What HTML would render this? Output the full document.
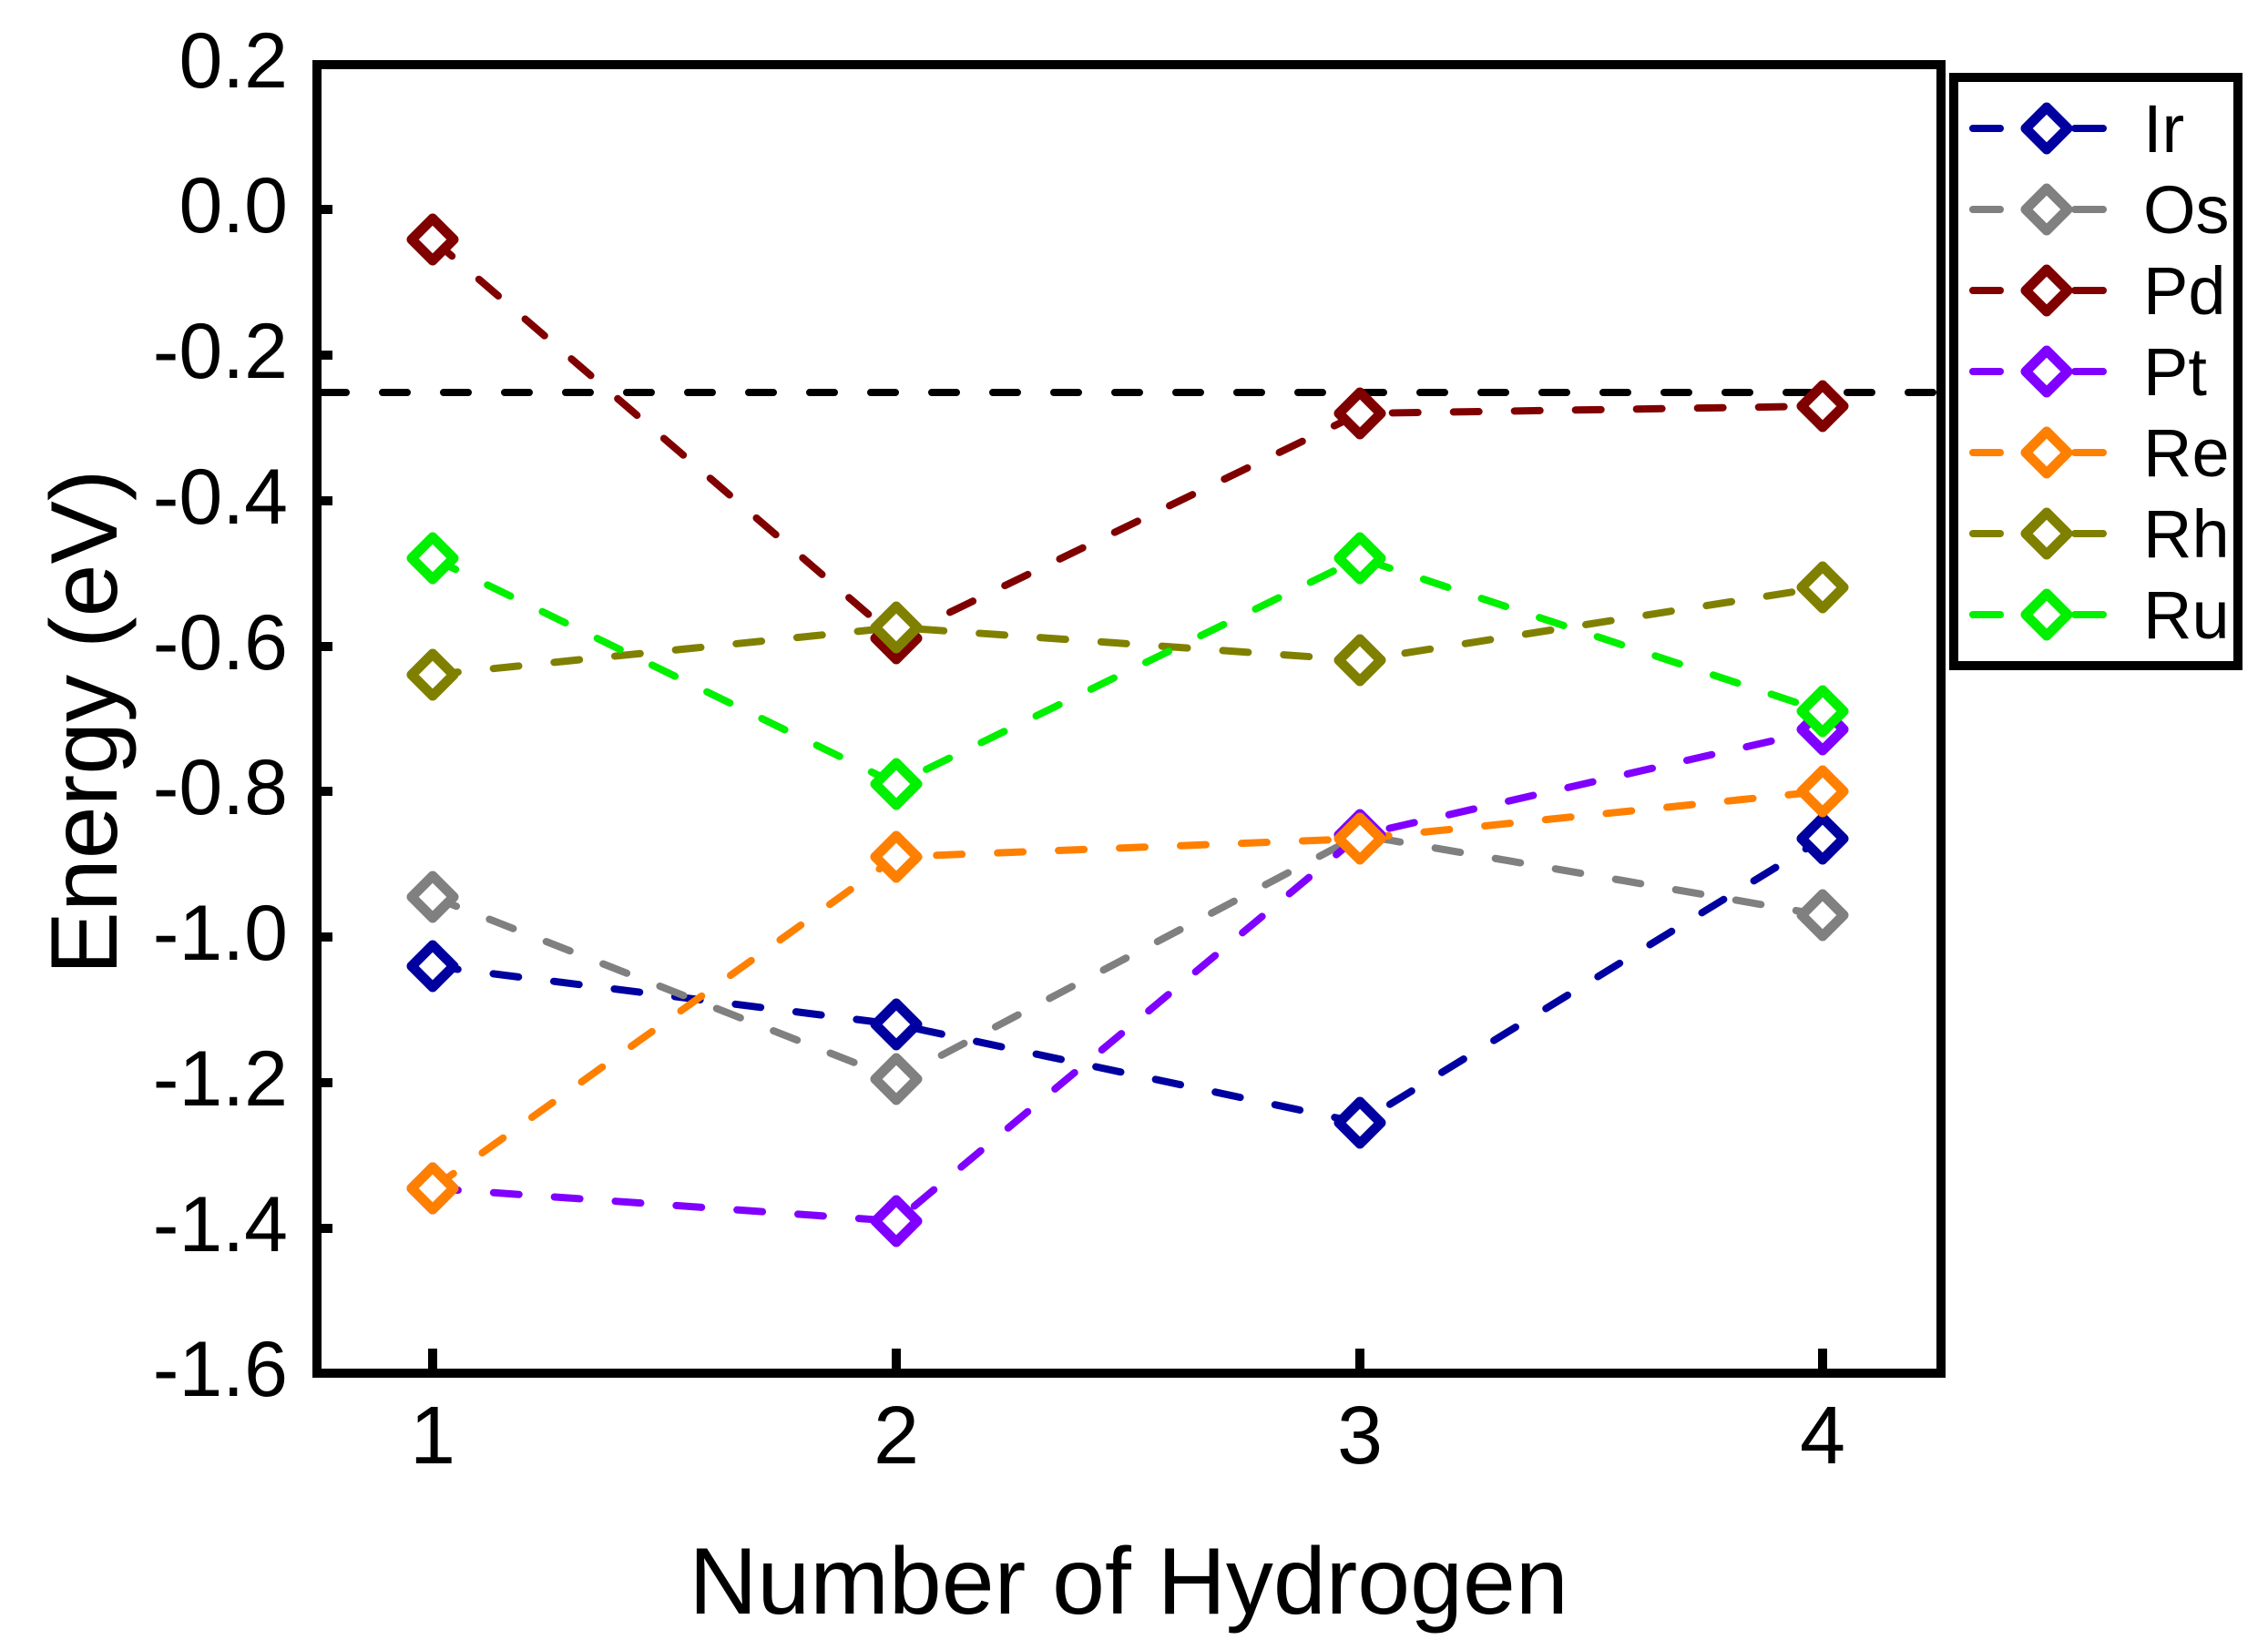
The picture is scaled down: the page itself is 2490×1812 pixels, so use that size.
<!DOCTYPE html>
<html><head><meta charset="utf-8"><style>
html,body{margin:0;padding:0;background:#fff}
svg{display:block}
text{font-family:"Liberation Sans",sans-serif;fill:#000}
</style></head><body>
<svg width="2490" height="1812" viewBox="0 0 2490 1812" xmlns="http://www.w3.org/2000/svg">
<defs>
<g id="d"><path d="M0,-23 L23,0 L0,23 L-23,0 Z" fill="#fff" stroke-width="11" stroke-linejoin="round"/></g>
</defs>
<line x1="353" y1="431" x2="2126" y2="431" stroke="#000" stroke-width="8" stroke-dasharray="27 40" stroke-linecap="round"/>
<rect x="348" y="71" width="1783" height="1437" fill="none" stroke="#000" stroke-width="10"/>
<g stroke="#000" stroke-width="10">
<line x1="475" y1="1508" x2="475" y2="1481"/><line x1="984" y1="1508" x2="984" y2="1481"/>
<line x1="1493" y1="1508" x2="1493" y2="1481"/><line x1="2001" y1="1508" x2="2001" y2="1481"/>
<line x1="348" y1="230" x2="365" y2="230"/><line x1="348" y1="390" x2="365" y2="390"/>
<line x1="348" y1="550" x2="365" y2="550"/><line x1="348" y1="710" x2="365" y2="710"/>
<line x1="348" y1="869" x2="365" y2="869"/><line x1="348" y1="1029" x2="365" y2="1029"/>
<line x1="348" y1="1189" x2="365" y2="1189"/><line x1="348" y1="1349" x2="365" y2="1349"/>
</g>
<g font-size="86" text-anchor="end">
<text x="316" y="96">0.2</text><text x="316" y="255">0.0</text><text x="316" y="415">-0.2</text>
<text x="316" y="575">-0.4</text><text x="316" y="735">-0.6</text><text x="316" y="894">-0.8</text>
<text x="316" y="1054">-1.0</text><text x="316" y="1214">-1.2</text><text x="316" y="1374">-1.4</text>
<text x="316" y="1533">-1.6</text>
</g>
<g font-size="90" text-anchor="middle">
<text x="475" y="1607">1</text><text x="984" y="1607">2</text><text x="1493" y="1607">3</text><text x="2001" y="1607">4</text>
</g>
<text x="1239" y="1772" font-size="104" text-anchor="middle">Number of Hydrogen</text>
<text transform="translate(128,793) rotate(-90)" font-size="104" text-anchor="middle">Energy (eV)</text>

<g fill="none" stroke-width="8" stroke-dasharray="28 39" stroke-linecap="round">
<polyline stroke="#0000A0" points="475,1061 984,1125 1493,1233 2001,921"/>
<polyline stroke="#808080" points="475,985 984,1185 1493,917 2001,1005"/>
<polyline stroke="#800000" points="475,263 984,701 1493,454 2001,446"/>
<polyline stroke="#8000FF" points="475,1305 984,1341 1493,917 2001,801"/>
<polyline stroke="#FF8000" points="475,1305 984,941 1493,921 2001,869"/>
<polyline stroke="#808000" points="475,741 984,689 1493,725 2001,645"/>
<polyline stroke="#00F000" points="475,613 984,861 1493,613 2001,781"/>
</g>
<g stroke="#0000A0"><use href="#d" x="475" y="1061"/><use href="#d" x="984" y="1125"/><use href="#d" x="1493" y="1233"/><use href="#d" x="2001" y="921"/></g>
<g stroke="#808080"><use href="#d" x="475" y="985"/><use href="#d" x="984" y="1185"/><use href="#d" x="1493" y="917"/><use href="#d" x="2001" y="1005"/></g>
<g stroke="#800000"><use href="#d" x="475" y="263"/><use href="#d" x="984" y="701"/><use href="#d" x="1493" y="454"/><use href="#d" x="2001" y="446"/></g>
<g stroke="#8000FF"><use href="#d" x="475" y="1305"/><use href="#d" x="984" y="1341"/><use href="#d" x="1493" y="917"/><use href="#d" x="2001" y="801"/></g>
<g stroke="#FF8000"><use href="#d" x="475" y="1305"/><use href="#d" x="984" y="941"/><use href="#d" x="1493" y="921"/><use href="#d" x="2001" y="869"/></g>
<g stroke="#808000"><use href="#d" x="475" y="741"/><use href="#d" x="984" y="689"/><use href="#d" x="1493" y="725"/><use href="#d" x="2001" y="645"/></g>
<g stroke="#00F000"><use href="#d" x="475" y="613"/><use href="#d" x="984" y="861"/><use href="#d" x="1493" y="613"/><use href="#d" x="2001" y="781"/></g>

<rect x="2145" y="85" width="312" height="646" fill="#fff" stroke="#000" stroke-width="10"/>
<g stroke-width="8" stroke-linecap="round">
<g stroke="#0000A0"><line x1="2166" y1="141" x2="2196" y2="141"/><line x1="2278" y1="141" x2="2309" y2="141"/><use href="#d" x="2247" y="141"/></g>
<g stroke="#808080"><line x1="2166" y1="230" x2="2196" y2="230"/><line x1="2278" y1="230" x2="2309" y2="230"/><use href="#d" x="2247" y="230"/></g>
<g stroke="#800000"><line x1="2166" y1="319" x2="2196" y2="319"/><line x1="2278" y1="319" x2="2309" y2="319"/><use href="#d" x="2247" y="319"/></g>
<g stroke="#8000FF"><line x1="2166" y1="408" x2="2196" y2="408"/><line x1="2278" y1="408" x2="2309" y2="408"/><use href="#d" x="2247" y="408"/></g>
<g stroke="#FF8000"><line x1="2166" y1="497" x2="2196" y2="497"/><line x1="2278" y1="497" x2="2309" y2="497"/><use href="#d" x="2247" y="497"/></g>
<g stroke="#808000"><line x1="2166" y1="586" x2="2196" y2="586"/><line x1="2278" y1="586" x2="2309" y2="586"/><use href="#d" x="2247" y="586"/></g>
<g stroke="#00F000"><line x1="2166" y1="675" x2="2196" y2="675"/><line x1="2278" y1="675" x2="2309" y2="675"/><use href="#d" x="2247" y="675"/></g>
</g>
<g font-size="74">
<text x="2353" y="167">Ir</text><text x="2353" y="256">Os</text><text x="2353" y="345">Pd</text>
<text x="2353" y="434">Pt</text><text x="2353" y="523">Re</text><text x="2353" y="612">Rh</text><text x="2353" y="701">Ru</text>
</g>
</svg>
</body></html>
